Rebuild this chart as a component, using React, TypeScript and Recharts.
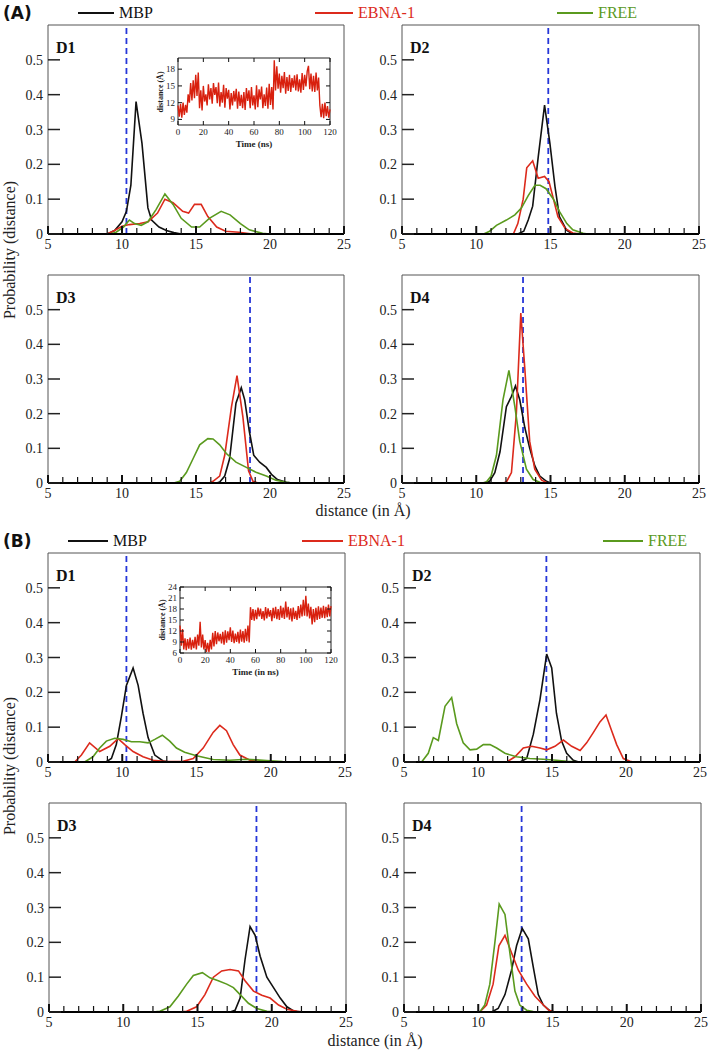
import React from 'react';
import { Line, LineChart, ReferenceArea, ReferenceLine, XAxis, YAxis } from 'recharts';

type Pair = [number, number];

const SERIF = '"Liberation Serif", "DejaVu Serif", serif';
const COLORS = { mbp: '#111111', ebna: '#dc2a1c', free: '#5a9a1e', marker: '#2636d8', inset: '#d8200e' };

const distanceTicks = [5, 6, 7, 8, 9, 10, 11, 12, 13, 14, 15, 16, 17, 18, 19, 20, 21, 22, 23, 24, 25];
const probabilityTicks = [0, 0.1, 0.2, 0.3, 0.4, 0.5];
const timeTicks = [0, 20, 40, 60, 80, 100, 120];
const insetTicksA = [9, 12, 15, 18];
const insetTicksB = [6, 9, 12, 15, 18, 21, 24];

// (A) distance distributions: [distance, probability]
const mbpA1: Pair[] = [[5, 0], [9, 0], [9.5, 0.01], [10, 0.035], [10.3, 0.065], [10.6, 0.14], [10.95, 0.38], [11.35, 0.26], [11.75, 0.075], [12, 0.04], [12.5, 0.02], [13, 0.01], [13.5, 0.004], [14, 0], [25, 0]];
const ebnaA1: Pair[] = [[5, 0], [9, 0], [9.5, 0.01], [10, 0.022], [10.5, 0.027], [11.2, 0.03], [11.76, 0.035], [12.4, 0.06], [12.9, 0.1], [13.45, 0.09], [14.1, 0.065], [14.5, 0.06], [14.9, 0.085], [15.35, 0.085], [15.8, 0.05], [16.4, 0.02], [17, 0.008], [17.9, 0.005], [18.8, 0], [25, 0]];
const freeA1: Pair[] = [[5, 0], [9.2, 0], [9.6, 0.005], [10.1, 0.02], [10.5, 0.04], [10.85, 0.03], [11.3, 0.025], [11.75, 0.035], [12.3, 0.07], [12.9, 0.115], [13.45, 0.085], [14, 0.045], [14.7, 0.02], [15.25, 0.02], [15.9, 0.045], [16.7, 0.065], [17.3, 0.055], [18, 0.03], [18.6, 0.012], [19.5, 0.002], [20, 0], [25, 0]];

const mbpA2: Pair[] = [[5, 0], [12.8, 0], [13.2, 0.008], [13.5, 0.04], [13.8, 0.08], [14.17, 0.22], [14.6, 0.37], [14.96, 0.26], [15.3, 0.137], [15.6, 0.05], [16.1, 0.01], [16.5, 0], [25, 0]];
const ebnaA2: Pair[] = [[5, 0], [12.5, 0], [12.8, 0.03], [13.16, 0.1], [13.4, 0.19], [13.8, 0.21], [14.17, 0.16], [14.6, 0.165], [14.9, 0.15], [15.2, 0.1], [15.5, 0.05], [16, 0.015], [16.5, 0.003], [17, 0], [25, 0]];
const freeA2: Pair[] = [[5, 0], [10.5, 0], [10.9, 0.008], [11.36, 0.025], [12.03, 0.04], [12.6, 0.055], [13.05, 0.075], [13.5, 0.11], [13.95, 0.14], [14.3, 0.14], [14.7, 0.13], [15.2, 0.1], [15.6, 0.065], [16.1, 0.03], [16.5, 0.012], [17.2, 0.002], [17.5, 0], [25, 0]];

const mbpA3: Pair[] = [[5, 0], [16.4, 0], [16.6, 0.003], [16.94, 0.02], [17.27, 0.07], [17.7, 0.23], [18.06, 0.275], [18.29, 0.24], [18.6, 0.15], [18.9, 0.08], [19.3, 0.06], [19.75, 0.045], [20.1, 0.025], [20.5, 0.01], [21.1, 0.002], [21.5, 0], [25, 0]];
const ebnaA3: Pair[] = [[5, 0], [15.9, 0], [16.15, 0.005], [16.6, 0.02], [16.94, 0.08], [17.4, 0.22], [17.77, 0.31], [18.17, 0.19], [18.55, 0.035], [18.85, 0.005], [19.2, 0], [25, 0]];
const freeA3: Pair[] = [[5, 0], [13.5, 0], [13.9, 0.005], [14.35, 0.03], [14.8, 0.07], [15.25, 0.11], [15.8, 0.128], [16.15, 0.127], [16.6, 0.11], [17.05, 0.085], [17.7, 0.06], [18.4, 0.045], [19.1, 0.03], [19.75, 0.02], [20.4, 0.008], [21.1, 0.002], [21.5, 0], [25, 0]];

const mbpA4: Pair[] = [[5, 0], [10.5, 0], [10.9, 0.005], [11.25, 0.03], [11.6, 0.09], [12.03, 0.22], [12.37, 0.25], [12.64, 0.28], [12.93, 0.24], [13.27, 0.16], [13.6, 0.1], [13.94, 0.05], [14.28, 0.02], [14.73, 0.005], [15, 0], [25, 0]];
const ebnaA4: Pair[] = [[5, 0], [11.8, 0], [12.03, 0.003], [12.37, 0.03], [12.7, 0.2], [13.0, 0.49], [13.27, 0.33], [13.6, 0.12], [13.94, 0.04], [14.4, 0.008], [14.8, 0], [25, 0]];
const freeA4: Pair[] = [[5, 0], [10.4, 0], [10.68, 0.003], [11.0, 0.02], [11.36, 0.08], [11.8, 0.24], [12.2, 0.325], [12.6, 0.22], [12.93, 0.12], [13.38, 0.04], [13.83, 0.01], [14.28, 0.002], [14.5, 0], [25, 0]];

// (B) distance distributions
const mbpB1: Pair[] = [[5, 0], [8.9, 0], [9.27, 0.01], [9.6, 0.05], [9.94, 0.13], [10.28, 0.22], [10.73, 0.27], [11.07, 0.22], [11.4, 0.14], [11.74, 0.07], [12.19, 0.02], [12.75, 0.003], [13.2, 0], [25, 0]];
const ebnaB1: Pair[] = [[5, 0], [6.8, 0], [7.25, 0.02], [7.8, 0.055], [8.48, 0.03], [9.16, 0.045], [9.72, 0.067], [10.17, 0.05], [10.73, 0.03], [11.4, 0.015], [12.08, 0.005], [13, 0.001], [14.1, 0.002], [14.78, 0.01], [15.45, 0.04], [16.12, 0.085], [16.57, 0.105], [17.02, 0.09], [17.47, 0.05], [17.92, 0.02], [18.6, 0.005], [19.27, 0.001], [20, 0], [25, 0]];
const freeB1: Pair[] = [[5, 0], [7.47, 0], [8.03, 0.015], [8.48, 0.04], [8.93, 0.06], [9.49, 0.068], [10.06, 0.065], [10.62, 0.058], [11.18, 0.058], [11.74, 0.055], [12.19, 0.065], [12.7, 0.077], [13.2, 0.06], [13.65, 0.04], [14.2, 0.028], [15, 0.018], [16.12, 0.007], [17.25, 0.005], [18.37, 0.008], [19.04, 0.006], [19.7, 0.004], [20.8, 0.001], [21.5, 0], [25, 0]];

const mbpB2: Pair[] = [[5, 0], [12.84, 0], [13.29, 0.01], [13.74, 0.08], [14.19, 0.18], [14.64, 0.31], [14.98, 0.27], [15.3, 0.14], [15.65, 0.06], [15.99, 0.025], [16.44, 0.005], [16.8, 0], [25, 0]];
const ebnaB2: Pair[] = [[5, 0], [11.94, 0], [12.5, 0.015], [13.06, 0.04], [13.63, 0.045], [14.19, 0.04], [14.64, 0.035], [15.2, 0.045], [15.77, 0.063], [16.33, 0.045], [16.9, 0.033], [17.34, 0.055], [17.8, 0.085], [18.24, 0.115], [18.65, 0.135], [19.03, 0.09], [19.37, 0.05], [19.82, 0.01], [20.27, 0.002], [20.5, 0], [25, 0]];
const freeB2: Pair[] = [[5, 0], [6.19, 0], [6.64, 0.025], [6.98, 0.07], [7.32, 0.062], [7.77, 0.16], [8.22, 0.185], [8.56, 0.11], [9.0, 0.055], [9.46, 0.035], [9.91, 0.037], [10.36, 0.05], [10.81, 0.05], [11.26, 0.04], [11.82, 0.025], [12.6, 0.015], [13.5, 0.01], [14.4, 0.008], [15.3, 0.005], [16, 0.002], [17, 0], [25, 0]];

const mbpB3: Pair[] = [[5, 0], [17.2, 0], [17.53, 0.005], [17.87, 0.04], [18.2, 0.15], [18.54, 0.245], [18.88, 0.22], [19.22, 0.16], [19.67, 0.1], [20.12, 0.07], [20.57, 0.04], [21.02, 0.015], [21.47, 0.003], [22, 0], [25, 0]];
const ebnaB3: Pair[] = [[5, 0], [13.8, 0], [14.27, 0.002], [14.94, 0.015], [15.5, 0.05], [16.07, 0.1], [16.63, 0.118], [17.19, 0.122], [17.76, 0.118], [18.2, 0.09], [18.77, 0.06], [19.33, 0.048], [19.89, 0.04], [20.46, 0.02], [21.02, 0.008], [21.7, 0.002], [22.2, 0], [25, 0]];
const freeB3: Pair[] = [[5, 0], [12, 0], [12.47, 0.002], [13.14, 0.015], [13.7, 0.045], [14.27, 0.08], [14.72, 0.105], [15.33, 0.113], [15.84, 0.098], [16.4, 0.09], [16.97, 0.08], [17.42, 0.07], [17.87, 0.05], [18.43, 0.025], [18.99, 0.01], [19.67, 0.002], [20.2, 0], [25, 0]];

const mbpB4: Pair[] = [[5, 0], [10.9, 0], [11.34, 0.01], [11.8, 0.05], [12.24, 0.12], [12.58, 0.19], [12.96, 0.24], [13.37, 0.21], [13.7, 0.13], [14.04, 0.05], [14.38, 0.02], [14.83, 0.003], [15.2, 0], [25, 0]];
const ebnaB4: Pair[] = [[5, 0], [10.1, 0], [10.56, 0.02], [11.0, 0.08], [11.39, 0.19], [11.8, 0.22], [12.24, 0.17], [12.7, 0.12], [13.26, 0.08], [13.82, 0.045], [14.27, 0.025], [14.72, 0.006], [15.1, 0], [25, 0]];
const freeB4: Pair[] = [[5, 0], [10.1, 0], [10.44, 0.02], [10.78, 0.08], [11.12, 0.2], [11.41, 0.31], [11.8, 0.28], [12.13, 0.17], [12.47, 0.06], [12.8, 0.02], [13.26, 0.005], [13.7, 0.001], [14, 0], [25, 0]];

// crystal-structure reference distances (blue dashed lines)
const markersA = [10.3, 14.85, 18.65, 13.15];
const markersB = [10.28, 14.62, 18.97, 12.92];

// inset time series, one sample per ns (0..120)
const insetDistA = [
  11.5, 9.5, 11.8, 9.3, 12, 9.8, 11.6, 10.2, 13.5, 12, 15.5, 12.4, 16, 12.8, 17, 13.2, 17.4, 11,
  14.2, 10.6, 15, 12.2, 13.5, 11.5, 15.3, 12.6, 14.6, 11.8, 15.5, 13.4, 14.8, 11.9, 15.6, 11.3, 13.9, 12,
  15.2, 11.1, 14.6, 12.7, 14.3, 10.8, 13.7, 11.5, 14.1, 12.2, 14.5, 10.9, 14, 11.4, 13.4, 11, 13.9, 10.7,
  14.6, 12.3, 14.2, 11, 14.8, 11.5, 13.3, 10.8, 15.1, 11.2, 14.4, 12.6, 14.9, 11, 13.5, 11.4, 14.7, 10.9,
  15.4, 11.6, 14.8, 10.8, 19.6, 14.2, 18.5, 14.5, 17.2, 13.8, 16.8, 14.6, 17.5, 13.6, 16.6, 14.1, 17, 13.9,
  16.4, 14.7, 16.9, 14.2, 17.1, 14, 16.2, 13.8, 17.3, 14.3, 17, 14.9, 17.6, 18.6, 14.4, 17.2, 14, 16.8,
  13.9, 17.4, 14.2, 16.5, 11.5, 9.4, 11.8, 9.2, 12, 9.6, 11.4, 9.3, 10.8,
];
const insetDistB = [
  13.5, 8, 12.5, 7, 10, 6.8, 9.8, 7.2, 10.2, 6.9, 9.6, 7.3, 10.4, 7, 11, 8, 14.5, 7.5, 11, 7, 9.5,
  6.3, 8.8, 6.2, 9.6, 7, 11.5, 7.8, 12, 8.4, 11.6, 9.2, 11.2, 8.6, 11.8, 8.3, 12.2, 8.8, 11.9, 9.5, 13,
  9, 12.1, 8.7, 11.3, 9, 11.8, 8.6, 12.4, 9.1, 12, 8.8, 12.6, 9.2, 13.5, 8.9, 18.5, 15, 18, 14.8, 17.8,
  15.2, 18.4, 16, 18.1, 15.3, 17.4, 14.9, 18.5, 15.4, 18.2, 15.9, 17.7, 14.7, 18.3, 15.5, 18.6, 15.2, 18, 15, 18.9,
  15.6, 18.4, 15.3, 20, 15.7, 18.6, 15.1, 18.2, 14.6, 18.4, 15.3, 17.5, 15, 18.8, 15.5, 19.2, 16, 20.5, 16.2, 21.6,
  16, 19.5, 15.4, 18.6, 13.8, 18, 14.4, 18.3, 15, 18.7, 15.3, 18.4, 15.6, 18.9, 15.5, 18.6, 15.8, 19.2, 16, 18.8,
];

const toPoints = (pairs: Pair[]) => pairs.map(([d, p]) => ({ d, p }));
const toSeries = (values: number[]) => values.map((v, t) => ({ t, v }));

function DistTickX(props: any) {
  const { x, y, payload } = props;
  const major = payload.value % 5 === 0;
  return (
    <g>
      <line x1={x} x2={x} y1={y} y2={y - (major ? 8 : 6)} stroke="#111" strokeWidth={major ? 2 : 1.2} />
      {major && (
        <text x={x} y={y + 15} textAnchor="middle" fontSize={14} fontFamily={SERIF} fill="#222">
          {payload.value}
        </text>
      )}
    </g>
  );
}

function ProbTickY(props: any) {
  const { x, y, payload } = props;
  return (
    <g>
      <line x1={x} x2={x + 12} y1={y} y2={y} stroke="#222" strokeWidth={1.5} />
      <text x={x - 5} y={y + 5} textAnchor="end" fontSize={14} fontFamily={SERIF} fill="#222">
        {payload.value}
      </text>
    </g>
  );
}

type PanelProps = {
  left: number;
  top: number;
  width: number;
  height: number;
  tag: string;
  marker: number;
  mbp: Pair[];
  ebna: Pair[];
  free: Pair[];
};

function DistPanel({ left, top, width, height, tag, marker, mbp, ebna, free }: PanelProps) {
  const padL = 40;
  const padT = 4;
  const padR = 8;
  const padB = 24;
  return (
    <div style={{ position: 'absolute', left: left - padL, top: top - padT }}>
      <LineChart width={width + padL + padR} height={height + padT + padB} margin={{ top: padT, right: padR, left: 0, bottom: 0 }}>
        <XAxis
          dataKey="d"
          type="number"
          domain={[5, 25]}
          ticks={distanceTicks}
          interval={0}
          tick={(p: any) => <DistTickX {...p} />}
          tickLine={false}
          tickSize={0}
          tickMargin={0}
          height={padB}
          axisLine={{ stroke: '#000', strokeWidth: 2 }}
          allowDataOverflow
        />
        <YAxis
          type="number"
          domain={[0, 0.6]}
          ticks={probabilityTicks}
          interval={0}
          tick={(p: any) => <ProbTickY {...p} />}
          tickLine={false}
          tickSize={0}
          tickMargin={0}
          width={padL}
          axisLine={false}
          allowDataOverflow
        />
        <ReferenceArea x1={5} x2={25} y1={0} y2={0.6} fill="none" stroke="#555" strokeWidth={1} ifOverflow="visible" />
        <ReferenceLine x={marker} stroke={COLORS.marker} strokeDasharray="6 4" strokeWidth={1.8} />
        <Line data={toPoints(mbp)} dataKey="p" type="linear" stroke={COLORS.mbp} strokeWidth={1.6} dot={false} isAnimationActive={false} />
        <Line data={toPoints(ebna)} dataKey="p" type="linear" stroke={COLORS.ebna} strokeWidth={1.6} dot={false} isAnimationActive={false} />
        <Line data={toPoints(free)} dataKey="p" type="linear" stroke={COLORS.free} strokeWidth={1.6} dot={false} isAnimationActive={false} />
      </LineChart>
      <div
        style={{
          position: 'absolute',
          left: padL + 8,
          top: padT + 15,
          fontFamily: SERIF,
          fontWeight: 'bold',
          fontSize: 16,
          lineHeight: 1,
          color: '#111',
        }}
      >
        {tag}
      </div>
    </div>
  );
}

type InsetProps = {
  left: number;
  top: number;
  width: number;
  height: number;
  values: number[];
  domain: [number, number];
  ticks: number[];
  xTitle: string;
};

function Inset({ left, top, width, height, values, domain, ticks, xTitle }: InsetProps) {
  const padL = 22;
  const padT = 7;
  const padR = 12;
  const padB = 14;
  const xTick = (p: any) => {
    const { x, y, payload } = p;
    return (
      <g>
        <line x1={x} x2={x} y1={y} y2={y - 4} stroke="#111" strokeWidth={1} />
        <line x1={x} x2={x} y1={y - height} y2={y - height + 4} stroke="#111" strokeWidth={1} />
        <text x={x} y={y + 10} textAnchor="middle" fontSize={9} fontFamily={SERIF} fill="#222">
          {payload.value}
        </text>
      </g>
    );
  };
  const yTick = (p: any) => {
    const { x, y, payload } = p;
    return (
      <g>
        <line x1={x} x2={x + 4} y1={y} y2={y} stroke="#111" strokeWidth={1} />
        <line x1={x + width} x2={x + width - 4} y1={y} y2={y} stroke="#111" strokeWidth={1} />
        <text x={x - 3} y={y + 3} textAnchor="end" fontSize={9} fontFamily={SERIF} fill="#222">
          {payload.value}
        </text>
      </g>
    );
  };
  return (
    <div style={{ position: 'absolute', left: left - padL, top: top - padT }}>
      <LineChart width={width + padL + padR} height={height + padT + padB} margin={{ top: padT, right: padR, left: 0, bottom: 0 }}>
        <XAxis
          dataKey="t"
          type="number"
          domain={[0, 120]}
          ticks={timeTicks}
          interval={0}
          tick={xTick}
          tickLine={false}
          tickSize={0}
          tickMargin={0}
          height={padB}
          axisLine={false}
        />
        <YAxis
          type="number"
          domain={domain}
          ticks={ticks}
          interval={0}
          tick={yTick}
          tickLine={false}
          tickSize={0}
          tickMargin={0}
          width={padL}
          axisLine={false}
          allowDataOverflow
        />
        <ReferenceArea x1={0} x2={120} y1={domain[0]} y2={domain[1]} fill="#fff" stroke="#222" strokeWidth={1} ifOverflow="visible" />
        <Line data={toSeries(values)} dataKey="v" type="linear" stroke={COLORS.inset} strokeWidth={1.4} dot={false} isAnimationActive={false} />
      </LineChart>
      <div
        style={{
          position: 'absolute',
          left: padL + width / 2,
          top: padT + height + 14,
          transform: 'translateX(-50%)',
          fontFamily: SERIF,
          fontWeight: 'bold',
          fontSize: 9,
          whiteSpace: 'nowrap',
          color: '#222',
        }}
      >
        {xTitle}
      </div>
      <div
        style={{
          position: 'absolute',
          left: 4,
          top: padT + height / 2,
          transform: 'translate(-50%, -50%) rotate(-90deg)',
          fontFamily: SERIF,
          fontWeight: 'bold',
          fontSize: 8,
          whiteSpace: 'nowrap',
          color: '#222',
        }}
      >
        distance (Å)
      </div>
    </div>
  );
}

function Legend({ top, tag, items }: { top: number; tag: string; items: { x: number; w: number; label: string; color: string }[] }) {
  return (
    <>
      <div
        style={{
          position: 'absolute',
          left: 3,
          top: top - 10,
          fontFamily: '"DejaVu Sans", sans-serif',
          fontWeight: 'bold',
          fontSize: 17,
          lineHeight: '20px',
          color: '#111',
        }}
      >
        {tag}
      </div>
      {items.map((it) => (
        <React.Fragment key={it.label}>
          <div style={{ position: 'absolute', left: it.x, top: top - 1, width: it.w, height: 2, background: it.color }} />
          <div
            style={{
              position: 'absolute',
              left: it.x + it.w + 5,
              top: top - 10,
              fontFamily: SERIF,
              fontSize: 16,
              lineHeight: '20px',
              color: it.color,
              whiteSpace: 'nowrap',
            }}
          >
            {it.label}
          </div>
        </React.Fragment>
      ))}
    </>
  );
}

function AxisTitles({ xCenter, xBaseTop, yCenter }: { xCenter: number; xBaseTop: number; yCenter: number }) {
  return (
    <>
      <div
        style={{
          position: 'absolute',
          left: xCenter,
          top: xBaseTop,
          transform: 'translateX(-50%)',
          fontFamily: SERIF,
          fontSize: 16,
          lineHeight: '18px',
          whiteSpace: 'nowrap',
          color: '#222',
        }}
      >
        distance (in Å)
      </div>
      <div
        style={{
          position: 'absolute',
          left: 10,
          top: yCenter,
          transform: 'translate(-50%, -50%) rotate(-90deg)',
          fontFamily: SERIF,
          fontSize: 16,
          whiteSpace: 'nowrap',
          color: '#222',
        }}
      >
        Probability (distance)
      </div>
    </>
  );
}

export default function App() {
  const W = 296;
  const H = 209;
  return (
    <div style={{ position: 'absolute', left: 0, top: 0, width: 712, height: 1053, background: '#fff', overflow: 'hidden' }}>
      <Legend
        top={13}
        tag="(A)"
        items={[
          { x: 78, w: 36, label: 'MBP', color: COLORS.mbp },
          { x: 315, w: 38, label: 'EBNA-1', color: COLORS.ebna },
          { x: 557, w: 36, label: 'FREE', color: COLORS.free },
        ]}
      />
      <DistPanel left={48} top={25} width={W} height={H} tag="D1" marker={markersA[0]} mbp={mbpA1} ebna={ebnaA1} free={freeA1} />
      <DistPanel left={402} top={25} width={W + 1} height={H} tag="D2" marker={markersA[1]} mbp={mbpA2} ebna={ebnaA2} free={freeA2} />
      <DistPanel left={48} top={275} width={W} height={H - 1} tag="D3" marker={markersA[2]} mbp={mbpA3} ebna={ebnaA3} free={freeA3} />
      <DistPanel left={402} top={275} width={W + 1} height={H - 1} tag="D4" marker={markersA[3]} mbp={mbpA4} ebna={ebnaA4} free={freeA4} />
      <Inset left={178} top={58} width={152} height={67} values={insetDistA} domain={[8, 20]} ticks={insetTicksA} xTitle="Time (ns)" />
      <AxisTitles xCenter={363} xBaseTop={502} yCenter={250} />

      <Legend
        top={541}
        tag="(B)"
        items={[
          { x: 68, w: 40, label: 'MBP', color: COLORS.mbp },
          { x: 302, w: 41, label: 'EBNA-1', color: COLORS.ebna },
          { x: 603, w: 40, label: 'FREE', color: COLORS.free },
        ]}
      />
      <DistPanel left={48} top={553} width={W + 1} height={H} tag="D1" marker={markersB[0]} mbp={mbpB1} ebna={ebnaB1} free={freeB1} />
      <DistPanel left={404} top={553} width={W} height={H} tag="D2" marker={markersB[1]} mbp={mbpB2} ebna={ebnaB2} free={freeB2} />
      <DistPanel left={49} top={803} width={W + 1} height={H} tag="D3" marker={markersB[2]} mbp={mbpB3} ebna={ebnaB3} free={freeB3} />
      <DistPanel left={404} top={803} width={W + 1} height={H} tag="D4" marker={markersB[3]} mbp={mbpB4} ebna={ebnaB4} free={freeB4} />
      <Inset left={180} top={587} width={151} height={66} values={insetDistB} domain={[6, 24]} ticks={insetTicksB} xTitle="Time (in ns)" />
      <AxisTitles xCenter={375} xBaseTop={1032} yCenter={766} />
    </div>
  );
}
